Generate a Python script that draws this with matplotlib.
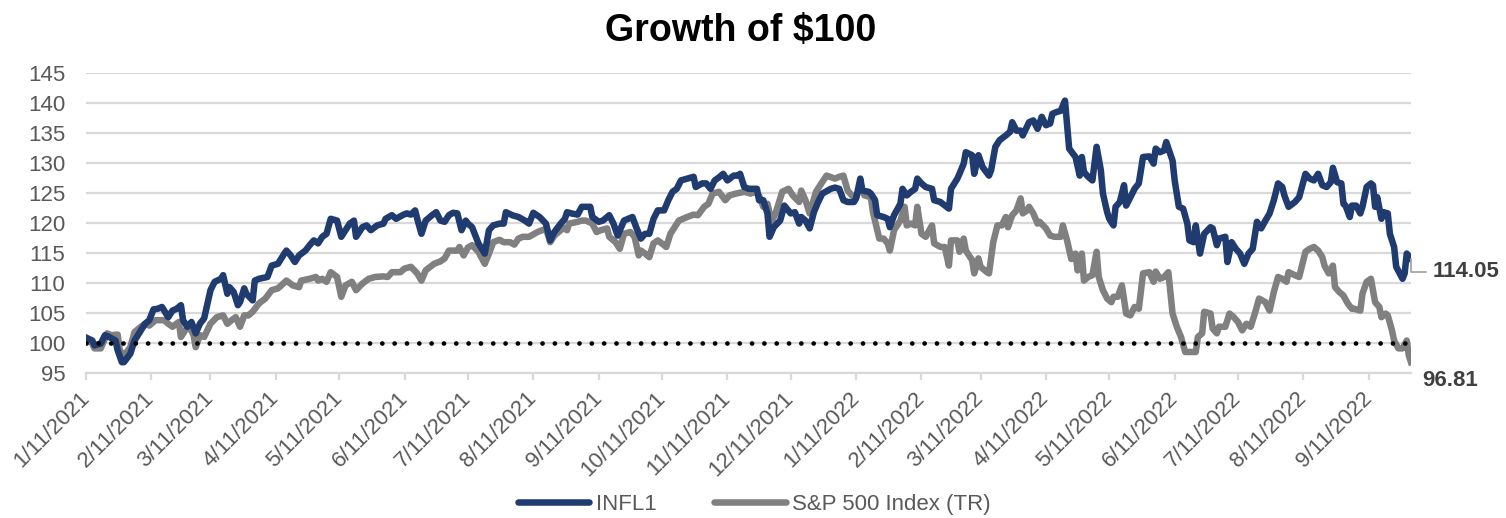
import pandas as pd
import matplotlib.pyplot as plt
import matplotlib.dates as mdates

plt.rcParams['font.family'] = ['Liberation Sans', 'DejaVu Sans']

START = '2021-01-11'

# days after START, value of $100 invested
infl_days = [0, 3, 4, 7, 9, 11, 14, 15, 17, 18, 21, 23, 26, 28, 30, 32, 34, 36, 39, 41,
             43, 45, 46, 48, 50, 52, 54, 56, 59, 61, 64, 65, 67, 68, 70, 72, 73, 75, 76, 79,
             80, 82, 86, 88, 91, 94, 95, 97, 99, 101, 104, 106, 108, 110, 112, 114, 116, 119, 121, 123,
             125, 127, 128, 131, 133, 135, 138, 141, 142, 145, 147, 150, 152, 154, 156, 157, 159, 161, 164, 166,
             168, 170, 172, 174, 176, 178, 180, 181, 183, 186, 189, 191, 193, 196, 198, 199, 202, 205, 208, 210,
             212, 215, 218, 220, 222, 225, 227, 228, 230, 233, 235, 237, 239, 240, 243, 245, 248, 250, 252, 255,
             257, 259, 261, 263, 265, 267, 269, 271, 274, 276, 278, 280, 282, 285, 288, 289, 292, 294, 296, 298,
             300, 302, 304, 307, 309, 310, 312, 314, 315, 318, 319, 321, 323, 324, 326, 329, 331, 334, 336, 338,
             339, 341, 343, 345, 347, 349, 353, 355, 357, 359, 361, 364, 365, 367, 368, 371, 372, 374, 375, 378,
             380, 381, 383, 386, 387, 389, 391, 393, 394, 396, 398, 401, 402, 405, 406, 409, 410, 413, 414, 416,
             417, 420, 421, 423, 425, 428, 429, 431, 433, 436, 438, 439, 441, 443, 444, 447, 449, 451, 453, 455,
             457, 458, 460, 462, 464, 466, 469, 471, 472, 473, 475, 477, 479, 481, 482, 484, 485, 487, 488, 490,
             492, 493, 495, 497, 499, 501, 504, 506, 507, 509, 511, 512, 515, 516, 518, 520, 522, 523, 525, 526,
             528, 530, 533, 534, 536, 537, 540, 541, 543, 545, 547, 549, 551, 553, 555, 557, 559, 561, 563, 565,
             567, 568, 570, 573, 575, 578, 580, 582, 584, 586, 588, 590, 591, 593, 595, 596, 597, 599, 600, 602,
             604, 605, 607, 609, 610, 611, 612, 614, 615, 617, 618, 620, 621, 624, 625, 626, 628]
infl_vals = [100.9, 100.4, 99.6, 99.9, 101.3, 101.0, 100.4, 98.8, 96.8, 96.8, 98.2, 100.4, 102.1, 103.2, 103.8, 105.6, 105.7, 106.0, 104.3, 105.4,
             105.7, 106.3, 103.8, 102.7, 103.5, 101.6, 103.2, 104.1, 108.8, 110.2, 110.7, 111.3, 108.2, 109.3, 108.5, 106.3, 106.8, 109.1, 108.2, 107.1,
             110.4, 110.7, 111.0, 112.9, 113.2, 114.9, 115.4, 114.6, 113.5, 114.6, 115.4, 116.3, 117.1, 116.6, 117.7, 118.2, 120.7, 120.4, 117.7, 118.8,
             119.9, 120.4, 117.7, 119.3, 119.6, 118.8, 119.6, 119.9, 120.7, 121.3, 120.7, 121.3, 121.6, 121.4, 122.1, 120.7, 118.2, 120.4, 121.3, 121.8,
             120.4, 120.2, 121.3, 121.7, 121.6, 118.8, 120.4, 119.9, 119.3, 116.6, 114.9, 118.8, 119.6, 119.9, 119.9, 121.8, 121.3, 121.0, 120.4, 119.9,
             121.7, 121.0, 119.9, 117.1, 118.5, 119.9, 120.7, 121.8, 121.6, 121.4, 122.7, 122.7, 122.7, 121.0, 120.2, 120.4, 121.3, 119.9, 117.9, 120.4,
             120.7, 121.0, 119.1, 117.4, 118.2, 118.2, 120.7, 122.1, 122.1, 123.8, 125.2, 125.7, 127.1, 127.4, 127.7, 126.0, 126.6, 126.6, 125.7, 127.1,
             127.6, 128.2, 127.1, 127.9, 127.9, 128.2, 126.0, 125.7, 125.7, 125.7, 123.8, 123.8, 121.6, 117.7, 119.3, 120.4, 122.9, 121.6, 121.8, 119.9,
             121.0, 120.4, 119.1, 121.8, 123.5, 124.9, 125.7, 125.9, 125.7, 123.8, 123.5, 123.5, 124.1, 127.4, 125.4, 125.2, 124.9, 123.8, 121.3, 121.0,
             120.7, 119.3, 121.3, 123.2, 125.7, 124.6, 125.2, 125.7, 127.4, 126.6, 126.0, 125.7, 123.8, 123.5, 123.2, 122.4, 125.7, 127.4, 128.2, 129.9,
             131.8, 131.3, 128.2, 131.3, 129.3, 127.9, 128.8, 132.7, 133.8, 134.6, 135.2, 136.8, 135.4, 135.4, 134.6, 136.8, 137.1, 135.7, 137.7, 136.3,
             136.6, 138.2, 138.5, 138.7, 140.4, 132.4, 131.0, 127.9, 131.0, 128.5, 127.7, 127.1, 132.7, 128.8, 124.9, 121.8, 120.7, 119.6, 122.7, 123.5,
             126.3, 122.9, 124.3, 125.7, 126.6, 131.0, 131.1, 129.9, 132.4, 131.8, 132.1, 133.5, 130.4, 127.1, 122.7, 122.4, 119.9, 117.1, 116.8, 119.6,
             114.9, 118.2, 119.3, 119.1, 116.3, 117.4, 117.7, 113.5, 116.8, 115.7, 114.9, 113.2, 114.9, 115.7, 120.2, 119.1, 120.4, 121.6, 123.8, 126.6,
             126.0, 124.6, 122.7, 123.5, 124.3, 128.2, 127.4, 127.1, 128.2, 126.3, 126.0, 126.8, 129.2, 126.8, 126.6, 123.2, 122.9, 121.0, 122.9, 122.9,
             121.6, 122.7, 126.0, 126.6, 126.3, 122.7, 124.3, 120.7, 121.8, 121.6, 118.2, 116.0, 112.7, 110.7, 111.6, 114.9, 114.05]

spx_days = [0, 3, 4, 7, 8, 10, 12, 15, 16, 18, 21, 23, 26, 28, 30, 33, 37, 39, 41, 44,
            45, 47, 49, 51, 52, 54, 56, 59, 62, 65, 67, 69, 71, 73, 75, 77, 79, 82, 85, 88,
            91, 95, 98, 101, 102, 106, 109, 110, 112, 114, 116, 119, 121, 123, 126, 128, 131, 134, 137, 141,
            143, 145, 149, 151, 154, 157, 159, 161, 165, 168, 170, 172, 176, 177, 179, 181, 183, 186, 189, 191,
            193, 196, 198, 201, 203, 205, 207, 210, 214, 217, 218, 220, 222, 225, 226, 228, 229, 233, 235, 237,
            240, 242, 244, 247, 248, 251, 253, 255, 258, 260, 262, 263, 265, 267, 269, 271, 274, 275, 277, 279,
            281, 285, 288, 290, 293, 295, 297, 300, 303, 305, 308, 312, 315, 317, 319, 321, 323, 325, 327, 330,
            333, 335, 338, 339, 341, 343, 346, 348, 351, 355, 357, 359, 361, 363, 365, 367, 369, 372, 373, 376,
            378, 380, 381, 383, 386, 388, 389, 391, 393, 394, 396, 398, 401, 402, 405, 407, 409, 410, 413, 414,
            416, 417, 420, 421, 423, 424, 427, 428, 430, 432, 434, 436, 437, 439, 441, 443, 444, 446, 447, 449,
            451, 452, 455, 457, 459, 462, 463, 465, 467, 469, 470, 472, 473, 475, 477, 479, 480, 482, 484, 486,
            487, 489, 491, 493, 495, 497, 499, 501, 504, 506, 507, 509, 511, 513, 515, 517, 519, 521, 523, 526,
            527, 529, 530, 533, 534, 536, 537, 540, 542, 544, 546, 548, 550, 552, 554, 556, 559, 561, 563, 565,
            567, 569, 570, 573, 575, 578, 580, 582, 584, 586, 587, 589, 591, 592, 594, 596, 598, 600, 601, 604,
            605, 607, 609, 611, 613, 614, 616, 617, 619, 620, 622, 624, 626, 627, 628]
spx_vals = [100.7, 99.9, 99.1, 99.1, 99.9, 101.6, 101.3, 101.4, 98.8, 97.9, 99.3, 101.8, 102.7, 103.2, 102.9, 103.8, 103.8, 103.2, 102.7, 103.5,
            101.0, 102.1, 102.7, 101.3, 99.3, 101.3, 101.0, 103.2, 104.3, 104.6, 103.2, 103.8, 104.3, 102.7, 104.6, 104.6, 105.2, 106.6, 107.4, 108.8,
            109.1, 110.4, 109.6, 109.3, 110.4, 110.7, 111.0, 110.4, 110.7, 110.2, 111.8, 111.0, 107.7, 109.6, 110.2, 108.8, 109.9, 110.7, 111.0, 111.1,
            111.0, 111.8, 111.8, 112.4, 112.7, 111.6, 110.4, 112.1, 113.2, 113.6, 114.1, 115.4, 115.4, 116.0, 114.6, 115.9, 116.3, 115.2, 113.2, 114.9,
            116.8, 117.2, 116.8, 116.8, 116.4, 117.4, 117.7, 117.7, 118.5, 118.9, 119.1, 116.8, 117.9, 118.8, 119.3, 118.8, 119.9, 120.2, 120.4, 120.4,
            119.9, 118.5, 118.8, 119.1, 117.7, 116.8, 115.7, 118.2, 118.5, 117.7, 114.6, 115.4, 114.9, 114.3, 116.6, 117.1, 116.3, 116.0, 118.2, 119.3,
            120.4, 121.0, 121.4, 121.3, 122.7, 123.2, 124.9, 125.2, 123.8, 124.6, 124.9, 125.2, 124.9, 125.2, 124.6, 122.7, 123.2, 120.2, 121.8, 125.2,
            125.7, 124.6, 123.5, 125.4, 123.8, 121.6, 125.2, 126.3, 127.9, 127.4, 127.7, 127.9, 125.4, 124.6, 124.3, 126.0, 124.6, 124.3, 121.8, 117.4,
            117.4, 116.6, 115.4, 118.8, 120.4, 122.7, 119.6, 119.9, 119.6, 122.7, 118.2, 117.7, 119.6, 116.6, 116.0, 116.0, 112.9, 117.1, 117.1, 115.2,
            117.4, 115.4, 113.8, 111.6, 114.1, 112.7, 111.8, 111.6, 116.8, 119.6, 119.6, 121.0, 119.3, 121.3, 122.1, 124.1, 121.6, 122.1, 122.7, 121.6,
            119.9, 120.2, 119.1, 117.9, 117.7, 117.7, 119.6, 117.1, 114.0, 114.9, 112.1, 114.9, 110.4, 111.0, 111.3, 115.2, 111.0, 108.8, 107.4, 106.8,
            107.7, 107.7, 109.6, 104.9, 104.6, 106.0, 105.7, 111.6, 111.8, 110.2, 111.9, 110.7, 111.0, 111.8, 104.9, 102.7, 101.0, 98.5, 98.5, 98.5,
            101.0, 101.6, 105.2, 104.9, 102.4, 101.6, 102.7, 102.7, 104.9, 104.3, 103.5, 102.1, 103.2, 102.7, 104.9, 107.4, 106.8, 105.4, 108.5, 111.0,
            110.7, 110.2, 111.8, 111.3, 111.0, 115.2, 115.7, 116.0, 115.4, 114.3, 112.9, 111.6, 112.9, 109.3, 108.5, 107.9, 106.6, 105.7, 105.7, 105.4,
            108.2, 110.2, 110.7, 106.8, 106.0, 104.3, 104.9, 104.6, 102.1, 100.4, 99.1, 99.1, 100.4, 97.9, 96.81]

y_ticks = [95, 100, 105, 110, 115, 120, 125, 130, 135, 140, 145]
baseline = 100

NAVY = '#1f3b6f'
GREY = '#808080'
TXT = '#595959'
GRID = '#d9d9d9'

start = pd.Timestamp(START)
infl_dates = start + pd.to_timedelta(infl_days, unit='D')
spx_dates = start + pd.to_timedelta(spx_days, unit='D')
month_ticks = pd.date_range('2021-01-01', '2022-09-01', freq='MS') + pd.Timedelta(days=10)

fig = plt.figure(figsize=(15.06, 5.18), dpi=100)
ax = fig.add_axes([0.0571, 0.280, 0.8798, 0.579])

ax.plot(infl_dates, infl_vals, color=NAVY, lw=4.7, solid_joinstyle='round', label='INFL1', zorder=3)
ax.plot(spx_dates, spx_vals, color=GREY, lw=4.7, solid_joinstyle='round', label='S&P 500 Index (TR)', zorder=2)
ax.axhline(baseline, color='black', lw=3.4, linestyle=(0, (0.01, 2.6)),
           dash_capstyle='round', zorder=4)

ax.set_xlim(infl_dates[0], infl_dates[-1])
ax.set_ylim(y_ticks[0], y_ticks[-1])
ax.set_yticks(y_ticks)
ax.set_xticks(month_ticks)
ax.set_xticklabels([f'{d.month}/{d.day}/{d.year}' for d in month_ticks],
                   rotation=45, ha='right', va='center', rotation_mode='anchor')

ax.grid(axis='y', color=GRID, lw=1.6)
ax.set_axisbelow(True)
for side in ['top', 'right', 'left']:
    ax.spines[side].set_visible(False)
ax.spines['bottom'].set_color(GRID)
ax.spines['bottom'].set_linewidth(1.6)
ax.tick_params(axis='y', length=0, pad=15, labelsize=16, labelcolor=TXT)
ax.tick_params(axis='x', length=5, width=1.6, color=GRID, pad=11, labelsize=16, labelcolor=TXT)

# end labels
ax.annotate(f'{infl_vals[-1]:.2f}', xy=(infl_dates[-1], infl_vals[-1]), xytext=(22, -13),
            textcoords='offset pixels', ha='left', va='center', fontsize=16,
            fontweight='bold', color='#404040', annotation_clip=False,
            arrowprops=dict(arrowstyle='-', color='#a6a6a6', lw=1.3, shrinkA=3, shrinkB=0,
                            connectionstyle='angle,angleA=0,angleB=90,rad=0'))
ax.annotate(f'{spx_vals[-1]:.2f}', xy=(spx_dates[-1], spx_vals[-1]), xytext=(11, -18),
            textcoords='offset pixels', ha='left', va='center', fontsize=16,
            fontweight='bold', color='#404040', annotation_clip=False)

fig.text(0.492, 0.940, 'Growth of $100', ha='center', va='center', fontsize=27,
         fontweight='bold', parse_math=False)

h, l = ax.get_legend_handles_labels()
leg = fig.legend(h, l, loc='center', bbox_to_anchor=(0.501, 0.027), ncol=2, frameon=False,
                 fontsize=16, handlelength=3.2, handletextpad=0.3, columnspacing=2.6,
                 labelcolor=TXT)
for ln in leg.get_lines():
    ln.set_solid_capstyle('round')

fig.savefig('out.png', dpi=100)
